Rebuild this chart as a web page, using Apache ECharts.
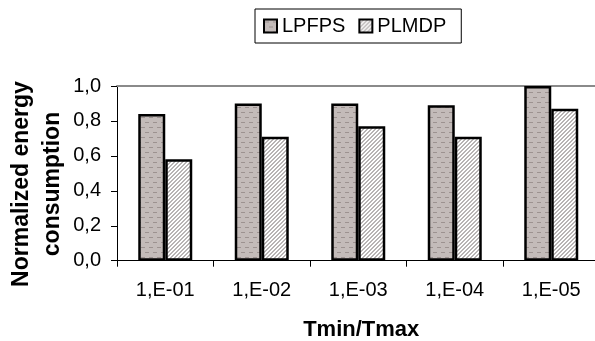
<!DOCTYPE html>
<html>
<head>
<meta charset="utf-8">
<script src="https://cdn.jsdelivr.net/npm/echarts@6/dist/echarts.min.js"></script>
<style>
html,body{margin:0;padding:0;background:#fff;}
#chart{width:595px;height:341px;}
</style>
</head>
<body>
<div id="chart"></div>
<script>
const categories = ['1,E-01', '1,E-02', '1,E-03', '1,E-04', '1,E-05'];
const lpfpsValues = [0.84, 0.90, 0.90, 0.89, 1.00];
const plmdpValues = [0.58, 0.71, 0.77, 0.71, 0.87];
const yTicks = [0, 0.2, 0.4, 0.6, 0.8, 1.0];
const yTitleLines = ['Normalized energy', 'consumption'];
const xTitle = 'Tmin/Tmax';

function dashPattern() {
  const c = document.createElement('canvas');
  c.width = 8; c.height = 10;
  const g = c.getContext('2d');
  g.fillStyle = '#c3bbb9';
  g.fillRect(0, 0, 8, 10);
  g.fillStyle = '#9c9290';
  g.fillRect(1, 2, 4, 1);
  g.fillRect(5, 7, 3, 1);
  g.fillRect(0, 7, 1, 1);
  return c;
}
function hatchPattern() {
  const c = document.createElement('canvas');
  c.width = 4; c.height = 4;
  const g = c.getContext('2d');
  g.fillStyle = '#ffffff';
  g.fillRect(0, 0, 4, 4);
  g.fillStyle = '#b8b4b4';
  for (let i = 0; i < 4; i++) {
    const x = (3 - i + 4) % 4;
    g.fillRect(x, i, 1, 1);
    g.fillRect((x + 1) % 4, i, 1, 1);
  }
  return c;
}

const FONT = '"Liberation Sans", Arial, sans-serif';
const chart = echarts.init(document.getElementById('chart'), null, {renderer: 'canvas'});
chart.setOption({
  animation: false,
  backgroundColor: '#ffffff',
  legend: {
    left: 255, top: 9,
    padding: [7, 15, 7, 8],
    borderColor: '#000', borderWidth: 1,
    icon: 'rect',
    itemWidth: 13, itemHeight: 13, itemGap: 13,
    textStyle: {fontFamily: FONT, fontSize: 20, color: '#000'},
    data: ['LPFPS', 'PLMDP']
  },
  graphic: [{
    type: 'text',
    x: 37, y: 184,
    rotation: Math.PI / 2,
    style: {
      text: yTitleLines.join('\n'),
      font: 'bold 23px ' + FONT,
      lineHeight: 31,
      fill: '#000',
      align: 'center',
      verticalAlign: 'middle'
    }
  }],
  grid: {left: 117, top: 86, width: 482.5, height: 174.7, outerBoundsMode: 'none', containLabel: false},
  xAxis: [{
    type: 'category',
    data: categories,
    axisLine: {lineStyle: {color: '#000', width: 1}},
    axisTick: {show: true, length: 6, lineStyle: {color: '#000'}},
    axisLabel: {fontFamily: FONT, fontSize: 20, color: '#000', margin: 20},
    name: xTitle,
    nameLocation: 'middle',
    nameGap: 58,
    nameTextStyle: {fontFamily: FONT, fontSize: 22, fontWeight: 'bold', color: '#000', padding: [0, 0, 0, 6]}
  }, {
    type: 'category',
    position: 'top',
    data: categories,
    axisLine: {lineStyle: {color: '#8a8a8a', width: 2}},
    axisTick: {show: false},
    axisLabel: {show: false}
  }],
  yAxis: {
    type: 'value',
    min: yTicks[0], max: yTicks[yTicks.length - 1], interval: 0.2,
    axisLine: {show: true, lineStyle: {color: '#000', width: 1}},
    axisTick: {show: true, length: 6, lineStyle: {color: '#000'}},
    splitLine: {show: false},
    axisLabel: {
      fontFamily: FONT, fontSize: 20, color: '#000', margin: 16,
      formatter: v => v.toFixed(1).replace('.', ',')
    }
  },
  series: [{
    name: 'LPFPS',
    type: 'bar',
    data: lpfpsValues,
    barWidth: 27,
    barGap: '0%',
    itemStyle: {color: {image: dashPattern(), repeat: 'repeat'}, borderColor: '#000', borderWidth: 2.5}
  }, {
    name: 'PLMDP',
    type: 'bar',
    data: plmdpValues,
    barWidth: 27,
    barGap: '0%',
    itemStyle: {color: {image: hatchPattern(), repeat: 'repeat'}, borderColor: '#000', borderWidth: 2.5}
  }]
});
</script>
</body>
</html>
